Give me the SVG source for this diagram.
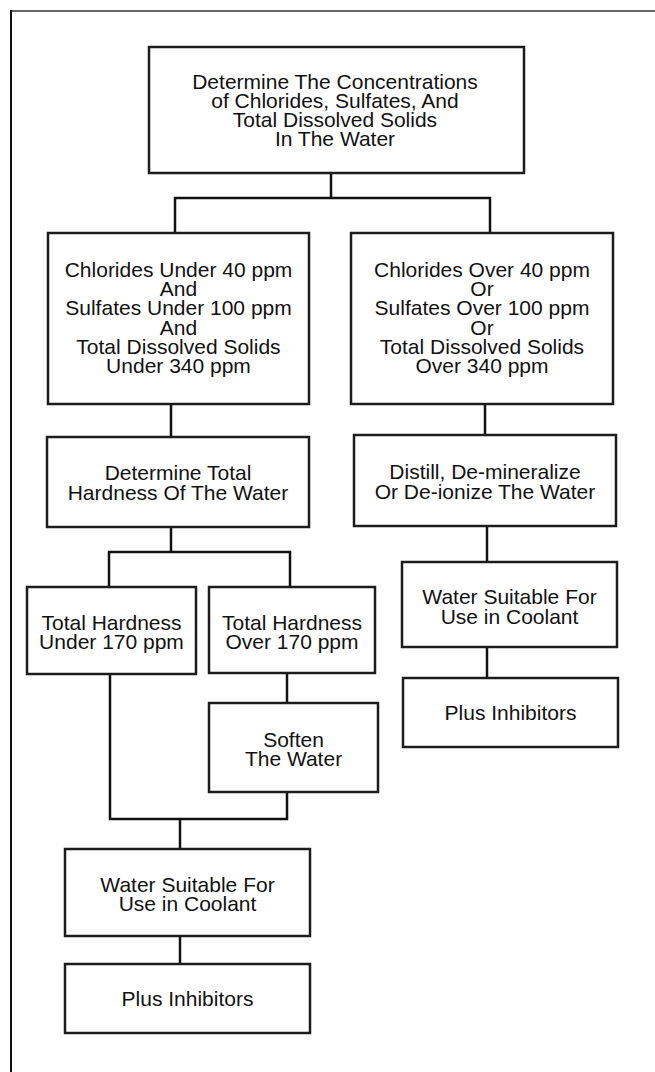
<svg xmlns="http://www.w3.org/2000/svg" width="655" height="1072" viewBox="0 0 655 1072">
<style>
.box{fill:#fff;stroke:#1c1c1c;stroke-width:2.5}
.con{fill:none;stroke:#111;stroke-width:2.5}
text{font-family:"Liberation Sans",Arial,Helvetica,sans-serif;font-size:21px;fill:#111;text-anchor:middle}
</style>
<rect x="0" y="0" width="655" height="1072" fill="#fff"/>
<g id="frame">
<line x1="11" y1="11" x2="655" y2="11" stroke="#666" stroke-width="2"/>
<line x1="11" y1="10" x2="11" y2="1072" stroke="#111" stroke-width="2"/>
</g>
<g id="connectors">
<path class="con" d="M331,173 V198 M175,233 V198 H490 V233"/>
<path class="con" d="M171,404 V437"/>
<path class="con" d="M485,404 V435"/>
<path class="con" d="M487,526 V562"/>
<path class="con" d="M487,647 V678"/>
<path class="con" d="M171,527 V552 M109,587 V552 H290 V587"/>
<path class="con" d="M287,673 V703"/>
<path class="con" d="M110,674 V819 H287 V792"/>
<path class="con" d="M180,819 V849"/>
<path class="con" d="M180,936 V964"/>
</g>
<g id="n_determine_conc">
<rect class="box" x="149" y="47" width="375" height="126"/>
<text x="335" y="89">Determine The Concentrations</text>
<text x="335" y="108">of Chlorides, Sulfates, And</text>
<text x="335" y="127">Total Dissolved Solids</text>
<text x="335" y="146">In The Water</text>
</g>
<g id="n_under">
<rect class="box" x="48" y="233" width="261" height="171"/>
<text x="178.5" y="277">Chlorides Under 40 ppm</text>
<text x="178.5" y="296.2">And</text>
<text x="178.5" y="315.4">Sulfates Under 100 ppm</text>
<text x="178.5" y="334.6">And</text>
<text x="178.5" y="353.8">Total Dissolved Solids</text>
<text x="178.5" y="373">Under 340 ppm</text>
</g>
<g id="n_over">
<rect class="box" x="351" y="233" width="262" height="171"/>
<text x="482" y="277">Chlorides Over 40 ppm</text>
<text x="482" y="296.2">Or</text>
<text x="482" y="315.4">Sulfates Over 100 ppm</text>
<text x="482" y="334.6">Or</text>
<text x="482" y="353.8">Total Dissolved Solids</text>
<text x="482" y="373">Over 340 ppm</text>
</g>
<g id="n_det_hardness">
<rect class="box" x="47" y="437" width="262" height="90"/>
<text x="178" y="480">Determine Total</text>
<text x="178" y="499.5">Hardness Of The Water</text>
</g>
<g id="n_distill">
<rect class="box" x="354" y="435" width="262" height="91"/>
<text x="485" y="479">Distill, De-mineralize</text>
<text x="485" y="498.5">Or De-ionize The Water</text>
</g>
<g id="n_water_right">
<rect class="box" x="402" y="562" width="215" height="85"/>
<text x="509.5" y="604">Water Suitable For</text>
<text x="509.5" y="623.5">Use in Coolant</text>
</g>
<g id="n_plus_right">
<rect class="box" x="403" y="678" width="215" height="69"/>
<text x="510.5" y="719.5">Plus Inhibitors</text>
</g>
<g id="n_hard_under">
<rect class="box" x="27" y="587" width="169" height="87"/>
<text x="111.5" y="629.5">Total Hardness</text>
<text x="111.5" y="649">Under 170 ppm</text>
</g>
<g id="n_hard_over">
<rect class="box" x="209" y="587" width="166" height="86"/>
<text x="292" y="629.5">Total Hardness</text>
<text x="292" y="649">Over 170 ppm</text>
</g>
<g id="n_soften">
<rect class="box" x="209" y="703" width="169" height="89"/>
<text x="293.5" y="746.5">Soften</text>
<text x="293.5" y="766">The Water</text>
</g>
<g id="n_water_left">
<rect class="box" x="65" y="849" width="245" height="87"/>
<text x="187.5" y="891.5">Water Suitable For</text>
<text x="187.5" y="911">Use in Coolant</text>
</g>
<g id="n_plus_left">
<rect class="box" x="65" y="964" width="245" height="69"/>
<text x="187.5" y="1006">Plus Inhibitors</text>
</g>
</svg>
